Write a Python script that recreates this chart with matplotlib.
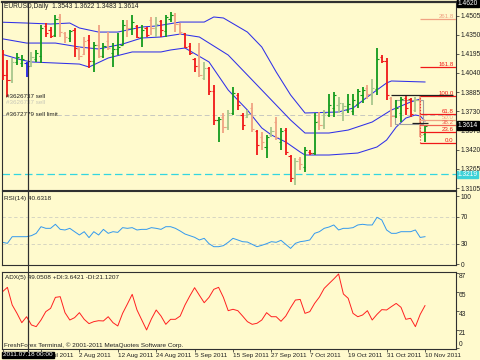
import matplotlib
matplotlib.use('Agg')
import matplotlib.pyplot as plt
import matplotlib.transforms as mtransforms
from matplotlib.lines import Line2D
from matplotlib.patches import Rectangle

plt.rcParams['font.family'] = ['Liberation Sans Narrow', 'Liberation Sans', 'DejaVu Sans']

# ---- price bars (daily EURUSD, first bar = 11 Jul 2011, index 0 = 2 Aug 2011)
first_idx = -16
opens = [1.4200, 1.4020, 1.3980, 1.4130, 1.4120, 1.4120, 1.4100, 1.4150, 1.4180, 1.4420,
         1.4390, 1.4350, 1.4490, 1.4360, 1.4320, 1.4390,
         1.4230, 1.4190, 1.4310, 1.4140, 1.4270, 1.4180, 1.4300, 1.4200, 1.4230, 1.4270,
         1.4430, 1.4400, 1.4420, 1.4330, 1.4400, 1.4470, 1.4400, 1.4460, 1.4380, 1.4480,
         1.4510, 1.4440, 1.4360, 1.4260, 1.4150, 1.4100, 1.4000, 1.4080, 1.3890, 1.3660,
         1.3680, 1.3600, 1.3720, 1.3860, 1.3700, 1.3680, 1.3760, 1.3570, 1.3520, 1.3440,
         1.3540, 1.3640, 1.3480, 1.3580, 1.3370, 1.3190, 1.3340, 1.3280, 1.3400, 1.3390,
         1.3650, 1.3620, 1.3700, 1.3760, 1.3780, 1.3720, 1.3740, 1.3730, 1.3790, 1.3860,
         1.3920, 1.3860, 1.3910, 1.4170, 1.4140, 1.3840, 1.3690, 1.3720, 1.3840, 1.3830,
         1.3740, 1.3820, 1.3543]
highs = [1.4226, 1.4145, 1.4160, 1.4202, 1.4185, 1.4129, 1.4210, 1.4226, 1.4428, 1.4444,
         1.4412, 1.4509, 1.4517, 1.4371, 1.4388, 1.4404,
         1.4250, 1.4331, 1.4347, 1.4291, 1.4428, 1.4282, 1.4371, 1.4282, 1.4363, 1.4469,
         1.4469, 1.4509, 1.4428, 1.4428, 1.4412, 1.4493, 1.4493, 1.4469, 1.4509, 1.4533,
         1.4525, 1.4444, 1.4363, 1.4282, 1.4161, 1.4282, 1.4129, 1.4088, 1.3943, 1.3683,
         1.3716, 1.3740, 1.3926, 1.3878, 1.3716, 1.3740, 1.3797, 1.3578, 1.3562, 1.3538,
         1.3603, 1.3683, 1.3595, 1.3595, 1.3376, 1.3352, 1.3360, 1.3441, 1.3417, 1.3716,
         1.3724, 1.3740, 1.3870, 1.3886, 1.3846, 1.3800, 1.3870, 1.3870, 1.3910, 1.3926,
         1.3940, 1.3990, 1.4242, 1.4185, 1.4161, 1.3846, 1.3821, 1.3846, 1.3862, 1.3840,
         1.3846, 1.3850, 1.3622]
lows = [1.3983, 1.3846, 1.3959, 1.4104, 1.4088, 1.4007, 1.4088, 1.4129, 1.4121, 1.4331,
        1.4323, 1.4331, 1.4331, 1.4282, 1.4290, 1.4169,
        1.4145, 1.4185, 1.4080, 1.4048, 1.4161, 1.4161, 1.4226, 1.4088, 1.4185, 1.4266,
        1.4331, 1.4347, 1.4323, 1.4250, 1.4331, 1.4347, 1.4331, 1.4331, 1.4331, 1.4452,
        1.4371, 1.4347, 1.4242, 1.4185, 1.4048, 1.4007, 1.3983, 1.3862, 1.3619, 1.3481,
        1.3554, 1.3578, 1.3700, 1.3740, 1.3578, 1.3675, 1.3562, 1.3376, 1.3417, 1.3352,
        1.3522, 1.3497, 1.3417, 1.3376, 1.3158, 1.3134, 1.3255, 1.3238, 1.3376, 1.3380,
        1.3578, 1.3590, 1.3683, 1.3683, 1.3716, 1.3650, 1.3720, 1.3700, 1.3760, 1.3800,
        1.3830, 1.3780, 1.3862, 1.4121, 1.3821, 1.3603, 1.3675, 1.3643, 1.3700, 1.3683,
        1.3724, 1.3520, 1.3483]
closes = [1.4020, 1.3980, 1.4130, 1.4170, 1.4150, 1.4100, 1.4170, 1.4200, 1.4400, 1.4360,
          1.4340, 1.4480, 1.4370, 1.4330, 1.4380, 1.4240,
          1.4180, 1.4300, 1.4140, 1.4270, 1.4180, 1.4260, 1.4240, 1.4230, 1.4250, 1.4430,
          1.4400, 1.4450, 1.4330, 1.4390, 1.4350, 1.4400, 1.4440, 1.4390, 1.4490, 1.4510,
          1.4440, 1.4375, 1.4250, 1.4200, 1.4100, 1.4020, 1.4080, 1.3890, 1.3660, 1.3670,
          1.3600, 1.3720, 1.3880, 1.3780, 1.3620, 1.3710, 1.3590, 1.3460, 1.3480, 1.3520,
          1.3570, 1.3520, 1.3570, 1.3400, 1.3190, 1.3330, 1.3300, 1.3420, 1.3390, 1.3640,
          1.3620, 1.3720, 1.3780, 1.3860, 1.3800, 1.3770, 1.3790, 1.3820, 1.3890, 1.3900,
          1.3870, 1.3920, 1.4150, 1.4140, 1.3860, 1.3690, 1.3760, 1.3830, 1.3760, 1.3710,
          1.3820, 1.3540, 1.3614]
bar_colors = ['r', 'r', 'lg', 'g', 'g', 'b', 'lg', 'g', 'g', 'r',
              'r', 'g', 'lr', 'lr', 'g', 'r',
              'lr', 'lr', 'r', 'g', 'lr', 'g', 'lr', 'g', 'g', 'g',
              'lr', 'g', 'r', 'g', 'r', 'lr', 'lg', 'r', 'g', 'g',
              'lr', 'lr', 'r', 'r', 'r', 'lr', 'lg', 'r', 'r', 'g',
              'lr', 'lg', 'g', 'r', 'r', 'lg', 'lr', 'r', 'lr', 'g',
              'lg', 'lr', 'g', 'r', 'r', 'lg', 'lr', 'g', 'r', 'g',
              'lr', 'lg', 'g', 'g', 'lg', 'lg', 'g', 'g', 'g', 'g',
              'lr', 'lg', 'g', 'r', 'r', 'lr', 'g', 'g', 'r', 'r',
              'lg', 'lr', 'g']

# ---- bands (bar index, price)
upper_idx = [-17, -11, -6, -2, 0, 4, 8, 13, 16, 21, 26, 28, 30, 35, 38, 41, 44, 47, 54, 57, 60, 64, 65, 72]
upper_val = [1.4452, 1.4444, 1.4436, 1.4444, 1.4404, 1.4371, 1.4371, 1.4412, 1.4420, 1.4452, 1.4452, 1.4493,
             1.4485, 1.4371, 1.4250, 1.4048, 1.3862, 1.3716, 1.3724, 1.3756, 1.3846, 1.3959, 1.3975, 1.3967]
mid_idx = [-17, -11, -5, 0, 4, 9, 13, 17, 21, 25, 31, 36, 40, 44, 47, 52, 56, 61, 65, 69, 71]
mid_val = [1.4323, 1.4282, 1.4282, 1.4250, 1.4234, 1.4274, 1.4323, 1.4331, 1.4355, 1.4331, 1.4185,
           1.3983, 1.3821, 1.3659, 1.3554, 1.3554, 1.3578, 1.3643, 1.3740, 1.3805, 1.3829]
low_idx = [-17, -12, -10, 0, 2, 6, 11, 17, 19, 22, 27, 31, 35, 38, 40, 43, 46, 47, 52, 58, 62, 64,
           66, 68, 70, 71, 72]
low_val = [1.4202, 1.4145, 1.4129, 1.4112, 1.4088, 1.4161, 1.4210, 1.4210, 1.4226, 1.4242, 1.4129,
           1.3902, 1.3740, 1.3595, 1.3538, 1.3481, 1.3400, 1.3376, 1.3376, 1.3392, 1.3441, 1.3497,
           1.3602, 1.3675, 1.3700, 1.3692, 1.3651]

# ---- indicators, one value per bar
rsi = [32.4, 30.9, 40.6, 40.6, 40.6, 40.6, 42.1, 45.5, 55.2, 52.8,
       52.8, 58.7, 51.3, 50.4, 52.8, 47.9,
       43.1, 47.9, 39.2, 47.9, 43.1, 51.3, 45.5, 47.9, 46.9, 53.8,
       52.8, 53.8, 50.4, 51.3, 51.3, 53.8, 52.8, 51.3, 55.2, 55.2,
       52.8, 48.9, 44.5, 42.1, 39.7, 35.8, 38.2, 30.4, 26.0, 26.0,
       27.5, 32.4, 38.2, 35.8, 33.3, 32.8, 29.4, 26.0, 28.0, 30.4,
       33.3, 32.4, 35.3, 29.4, 23.5, 30.9, 33.3, 34.3, 35.8, 45.5,
       47.9, 52.8, 54.7, 57.7, 50.4, 52.8, 52.8, 53.8, 57.7, 58.7,
       57.7, 57.7, 68.9, 65.0, 50.4, 45.5, 45.5, 47.9, 47.9, 47.9,
       50.4, 39.5, 40.6318]
adx = [65.2, 70.2, 49.8, 40.1, 29.3, 36.2, 26.7, 24.7, 32.4, 42.1,
       45.9, 58.6, 59.4, 40.9, 32.4, 35.1,
       40.9, 33.2, 28.2, 30.5, 31.6, 31.3, 36.2, 29.3, 25.5, 40.1,
       50.9, 62.1, 44.0, 32.4, 20.9, 33.6, 44.0, 37.0, 27.4, 33.2,
       33.2, 37.0, 49.8, 60.2, 69.8, 61.0, 52.4, 58.6, 67.9, 70.2,
       58.6, 43.2, 44.8, 43.2, 37.0, 30.5, 27.4, 28.6, 32.4, 40.9,
       36.2, 36.2, 30.9, 37.0, 46.7, 55.5, 56.2, 40.1, 42.1, 51.6,
       59.0, 69.0, 74.5, 79.9, 85.7, 62.5, 57.5, 40.1, 36.2, 38.2,
       43.2, 32.4, 38.9, 44.4, 44.0, 47.9, 51.6, 47.1, 33.2, 34.4,
       24.7, 38.9, 49.0508]

# ---- axis labels
date_idx = [-16, -8, 0, 8, 16, 24, 32, 40, 48, 56, 64, 72]
date_labels = ['11 Jul 2011', '21 Jul 2011', '2 Aug 2011', '12 Aug 2011', '24 Aug 2011', '5 Sep 2011',
               '15 Sep 2011', '27 Sep 2011', '7 Oct 2011', '19 Oct 2011', '31 Oct 2011', '10 Nov 2011']
price_ticks = [1.4505, 1.4350, 1.4195, 1.4040, 1.3885, 1.3730, 1.3575, 1.3420, 1.3265, 1.3105]
rsi_ticks = [100, 70, 30, 0]
adx_ticks = [87, 65, 43, 21, 0]

# ---- objects on the chart
fib_levels = [0.0, 23.6, 38.2, 50.0, 61.8, 100.0, 161.8, 261.8]
fib_low, fib_high = 1.3471, 1.3854
fib_start = 71
sell_price = 1.3846
sell_limit_price = 1.3700
cyan_level = 1.3219
cross_idx = -10.7
cross_price = 1.4606

BG = '#fffacd'
bar_palette = {'r': '#f01818', 'g': '#139a1c', 'lr': '#f0a282', 'lg': '#a8c68c', 'b': '#2222ee'}


def box(x0, y0, x1, y1):
    return [x0 / 480, 1 - y1 / 360, (x1 - x0) / 480, (y1 - y0) / 360]


fig = plt.figure(figsize=(4.8, 3.6), dpi=100, facecolor=BG)
ax = fig.add_axes(box(2, 2, 456, 190))
ax_rsi = fig.add_axes(box(2, 191, 456, 265))
ax_adx = fig.add_axes(box(2, 272, 456, 349))

xlim = (-16.125, 78.46)
for a in (ax, ax_rsi, ax_adx):
    a.set_facecolor(BG)
    a.set_xlim(*xlim)
    for s in a.spines.values():
        s.set_color('#303030')
        s.set_linewidth(0.8)
    a.yaxis.tick_right()
    a.tick_params(axis='y', direction='out', length=2, width=0.5, pad=1.5,
                  labelsize=4.8, colors='#202020')
    a.tick_params(axis='x', bottom=False, labelbottom=False)
    a.axvline(cross_idx, color='#303030', lw=0.8, zorder=6)
ax.spines['top'].set_linewidth(1.6)

# price panel
ax.set_ylim(1.30928, 1.46143)
ax.set_yticks(price_ticks)
ax.set_yticklabels([f'{p:.4f}' for p in price_ticks])

for xs, ys in ((upper_idx, upper_val), (mid_idx, mid_val), (low_idx, low_val)):
    ax.plot(xs, ys, color='#3030e8', lw=0.75, zorder=2)

idx = list(range(first_idx, first_idx + len(opens)))
cols = [bar_palette[c] for c in bar_colors]
ax.vlines(idx, lows, highs, colors=cols, linewidth=1.3, zorder=3)
ax.hlines(opens, [i - 0.45 for i in idx], idx, colors=cols, linewidth=0.8, zorder=3)
ax.hlines(closes, idx, [i + 0.45 for i in idx], colors=cols, linewidth=0.8, zorder=3)

ax.axhline(sell_limit_price, color='#c8c8c0', lw=0.7, ls=(0, (5, 3)), zorder=1)
ax.axhline(cyan_level, color='#33d6e0', lw=0.9, ls=(0, (6, 3)), zorder=1)
ax.text(0.009, sell_price, '#3626737 sell', transform=ax.get_yaxis_transform(),
        fontsize=4.5, va='center', color='#202020')
ax.text(0.009, sell_price - 0.0045, '#3626737 sell', transform=ax.get_yaxis_transform(),
        fontsize=4.5, va='center', color='#c8c8b8')
ax.text(0.009, sell_limit_price, '#3672779 sell limit', transform=ax.get_yaxis_transform(),
        fontsize=4.5, va='center', color='#202020',
        bbox=dict(facecolor=BG, edgecolor='none', pad=0.3))

# fibonacci
fib_colors = {0.0: '#f01818', 23.6: '#f01818', 38.2: '#f06050', 50.0: '#f0a282', 61.8: '#f01818',
              100.0: '#f01818', 161.8: '#f01818', 261.8: '#f0a282'}
for lvl in fib_levels:
    p = fib_low + lvl / 100 * (fib_high - fib_low)
    ax.hlines(p, fib_start, xlim[1], color=fib_colors[lvl], lw=0.9, zorder=4)
    ax.text(0.995, p, f'{lvl:.1f}', transform=ax.get_yaxis_transform(), ha='right', va='bottom',
            fontsize=4.4, color=fib_colors[lvl], zorder=5)
ax.plot([fib_start, fib_start], [fib_low, fib_high], color='#f03030', ls=':', lw=0.8, zorder=4)
ax.hlines(fib_high + 0.0006, 65, 77.8, color='#202020', lw=0.9, zorder=5)
ax.hlines(1.3633, 69.3, 72.6, color='#202020', lw=0.9, zorder=5)
ax.add_patch(Rectangle((65.8, 1.3627), 5.8, 0.0194, fill=False, ec='#a0a0a0', lw=0.8, zorder=2))

ax.text(0.0044, 0.976, f'EURUSD,Daily  {opens[-1]:.4f} {highs[-1]:.4f} {lows[-1]:.4f} {closes[-1]:.4f}',
        transform=ax.transAxes, fontsize=4.8, va='center', color='#202020')

ytr = ax.get_yaxis_transform()
ax.text(1.004, closes[-1], f'{closes[-1]:.4f}', transform=ytr, fontsize=4.8, va='center',
        color='white', bbox=dict(facecolor='black', edgecolor='black', pad=0.6))
ax.text(1.004, cyan_level, f'{cyan_level:.4f}', transform=ytr, fontsize=4.8, va='center',
        color='white', bbox=dict(facecolor='#3cd2d8', edgecolor='#3cd2d8', pad=0.3))
ax.text(1.004, cross_price, '1.4620', transform=ytr, fontsize=4.8, va='center',
        color='white', bbox=dict(facecolor='black', edgecolor='black', pad=0.6))

# RSI panel
ax_rsi.set_ylim(-0.73, 107.3)
ax_rsi.set_yticks(rsi_ticks)
ax_rsi.set_yticklabels([str(t) for t in rsi_ticks])
for lv in (70, 30):
    ax_rsi.axhline(lv, color='#d0d0c0', lw=0.6, ls=(0, (4, 3)))
ax_rsi.plot(idx, rsi, color='#3399ee', lw=0.7)
ax_rsi.text(0.0044, 0.905, f'RSI(14) {rsi[-1]:.4f}', transform=ax_rsi.transAxes,
            fontsize=4.6, va='center', color='#202020')

# ADX panel
ax_adx.set_ylim(-1.16, 87.96)
ax_adx.set_yticks(adx_ticks)
ax_adx.set_yticklabels([])
ytr2 = ax_adx.get_yaxis_transform()
for t in adx_ticks:
    ax_adx.text(1.006, t, str(t), transform=ytr2, fontsize=4.8, color='#202020',
                va='bottom' if t == 0 else 'top')
ax_adx.plot(idx, adx, color='#ff2020', lw=0.7)
ax_adx.text(0.0066, 0.935, f'ADX(5) {adx[-1]:.4f} +DI:3.6421 -DI:21.1207', transform=ax_adx.transAxes,
            fontsize=4.6, va='center', color='#202020')
ax_adx.text(0.0044, 0.052, 'FreshForex Terminal, \u00a9 2001-2011 MetaQuotes Software Corp.',
            transform=ax_adx.transAxes, fontsize=4.6, va='center', color='#202020')

ax_adx.set_xticks(date_idx)
ax_adx.set_xticklabels(date_labels, ha='left')
ax_adx.tick_params(axis='x', bottom=True, labelbottom=True, direction='out', length=2,
                   width=0.5, pad=1, labelsize=4.6, colors='#202020')

# crosshair through the gaps and its date box
btr = mtransforms.blended_transform_factory(ax.transData, fig.transFigure)
fig.add_artist(Line2D([cross_idx, cross_idx], [1 - 352 / 360, 1 - 2 / 360], transform=btr,
                      color='#303030', lw=0.8))
fig.text(cross_idx, 1 - 355 / 360, '2011.07.18 00:00', transform=btr, ha='center', va='center',
         fontsize=4.6, color='white', bbox=dict(facecolor='black', edgecolor='black', pad=0.6))

fig.savefig('out.png', dpi=100, facecolor=BG)
